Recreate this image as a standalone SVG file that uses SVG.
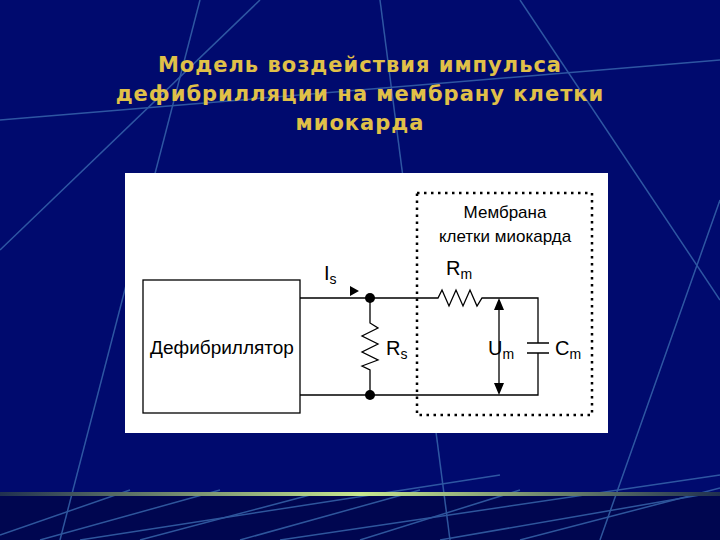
<svg xmlns="http://www.w3.org/2000/svg" width="720" height="540" viewBox="0 0 720 540">
<defs>
<linearGradient id="bar" x1="0" x2="1"><stop offset="0" stop-color="#203050"/><stop offset="0.5" stop-color="#c8e890"/><stop offset="1" stop-color="#203050"/></linearGradient>
<style>
.bl{stroke:#3a6ab0;stroke-width:1.5;fill:none;opacity:.8}
.w{stroke:#000;stroke-width:1.3;fill:none}
.t{font-family:"Liberation Sans",Arial,sans-serif;fill:#000}
.ti{font-family:"DejaVu Sans",Verdana,sans-serif;font-weight:bold;font-size:21px;letter-spacing:1px;fill:#e0c048;text-anchor:middle}
</style>
</defs>
<rect width="720" height="540" fill="#000a6e"/>
<rect x="0" y="494" width="720" height="46" fill="#000650"/>
<g class="bl">
<path d="M0 250 L260 0"/><path d="M60 540 L200 0"/><path d="M380 0 L450 540"/><path d="M520 0 L720 300"/><path d="M0 120 L720 60"/><path d="M600 540 L720 200"/>
<path d="M0 535 L130 490"/><path d="M40 540 L220 490"/><path d="M140 540 L310 495"/><path d="M80 540 L500 475"/><path d="M240 540 L420 490"/><path d="M280 540 L720 475"/><path d="M360 540 L520 490"/><path d="M440 540 L700 495"/><path d="M520 540 L720 488"/>
</g>
<rect x="0" y="492" width="720" height="4" fill="url(#bar)"/>
<g id="title">
<text class="ti" x="360" y="72">Модель воздействия импульса</text>
<text class="ti" x="360" y="101">дефибрилляции на мембрану клетки</text>
<text class="ti" x="360" y="130">миокарда</text>
</g>
<rect x="125" y="173" width="483" height="260" fill="#fff"/>
<g id="defib"><rect class="w" x="143" y="280" width="157" height="133"/><text class="t" x="222" y="354" font-size="19" text-anchor="middle">Дефибриллятор</text></g>
<g id="membrane"><rect x="417" y="193" width="175" height="222" fill="none" stroke="#000" stroke-width="2.5" stroke-dasharray="2.5,4.5"/>
<text class="t" x="505" y="218" font-size="17" text-anchor="middle">Мембрана</text>
<text class="t" x="505" y="242" font-size="17" text-anchor="middle">клетки миокарда</text></g>
<g id="connectors">
<path class="w" d="M300 298 H438 L442 290 L449 306 L456 290 L463 306 L470 290 L477 306 L482 298 H538 V343"/>
<path class="w" d="M538 353 V395 H300"/>
<path class="w" d="M370 298 V323 L378 328 L362 336 L378 344 L362 352 L378 360 L362 366 L370 370 V395"/>
<path class="w" d="M527 343 H549 M527 353 H549" stroke-width="1.6"/>
<path class="w" d="M499 306 V387"/>
<path d="M499 298 L494 310 L504 310Z M499 395 L494 383 L504 383Z M350 286 L359 291 L350 296Z"/>
<circle cx="370" cy="298" r="5"/><circle cx="370" cy="395" r="5"/>
</g>
<g id="labels" class="t" font-size="20">
<text x="324" y="280">I<tspan font-size="14" dy="4">s</tspan></text>
<text x="446" y="275">R<tspan font-size="14" dy="4">m</tspan></text>
<text x="386" y="355">R<tspan font-size="14" dy="4">s</tspan></text>
<text x="488" y="355">U<tspan font-size="14" dy="4">m</tspan></text>
<text x="555" y="355">C<tspan font-size="14" dy="4">m</tspan></text>
</g>
</svg>
